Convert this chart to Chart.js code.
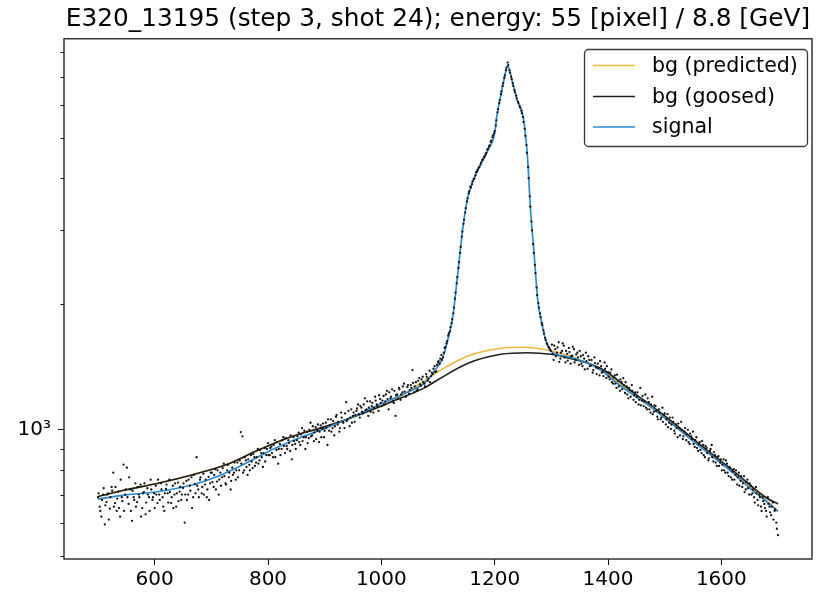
<!DOCTYPE html>
<html><head><meta charset="utf-8">
<script src="https://cdn.jsdelivr.net/npm/chart.js@4.4.1/dist/chart.umd.min.js"></script>
<style>html,body{margin:0;padding:0;background:#fff}canvas{display:block}</style>
</head><body>
<canvas id="c" width="816" height="594"></canvas>
<script>
const titleText = 'E320_13195 (step 3, shot 24); energy: 55 [pixel] / 8.8 [GeV]';
const seriesNames = ['bg (predicted)', 'bg (goosed)', 'signal'];
const xTicks = [600, 800, 1000, 1200, 1400, 1600];
const yMajorTicks = [1000];
const yMinorTicks = [500, 600, 700, 800, 900, 2000, 3000, 4000, 5000, 6000, 7000, 8000];
const xRange = [440, 1760];
const yRange = [491, 8621];

const bgPredicted = [[500,693],[550,719],[608,746],[667,781],[726,825],[784,896],[842,964],[901,1018],[960,1086],[1018,1168],[1065,1282],[1100,1378],[1153,1502],[1211,1567],[1252,1576],[1293,1552],[1316,1524],[1358,1456],[1387,1395],[1445,1215],[1504,1060],[1562,915],[1621,790],[1680,676],[1700,640]];
const bgGoosed = [[500,693],[550,719],[608,746],[667,781],[726,825],[784,896],[842,964],[901,1018],[960,1086],[1018,1168],[1077,1262],[1100,1318],[1153,1443],[1211,1516],[1258,1529],[1299,1516],[1328,1488],[1387,1404],[1445,1228],[1504,1070],[1562,923],[1621,798],[1680,687],[1700,665]];
const signal = [[500,683],[550,699],[608,712],[667,739],[714,777],[761,832],[807,896],[854,955],[901,1009],[948,1072],[995,1147],[1042,1224],[1077,1298],[1094,1385],[1109,1496],[1118,1658],[1126,1861],[1135,2371],[1144,3053],[1150,3450],[1156,3742],[1170,4177],[1188,4663],[1200,5119],[1204,5650],[1209,6137],[1215,6730],[1223,7440],[1232,6730],[1240,6137],[1249,5717],[1254,5150],[1258,4487],[1263,3409],[1270,2589],[1276,2044],[1284,1781],[1290,1641],[1299,1546],[1310,1515],[1328,1496],[1358,1456],[1387,1391],[1416,1293],[1445,1212],[1475,1137],[1504,1057],[1533,982],[1562,912],[1592,848],[1621,788],[1650,726],[1680,674],[1700,638]];

const dotsA = [[500,690],[503,655],[506,620],[509,700],[512,594],[515,672],[518,705],[521,648],[524,730],[527,790],[530,668],[533,640],[536,712],[539,620],[542,690],[545,826],[548,700],
[551,812],[554,665],[557,720],[560,606],[563,690],[566,745],[569,672],[572,700],[575,740],[578,650],[581,710],[584,628],[587,725],[590,690],[593,760],[596,680],[599,705],
[602,735],[605,668],[608,700],[611,745],[614,690],[617,640],[620,722],[623,705],[626,760],[629,668],[632,735],[635,700],[638,655],[641,748],[644,712],[647,680],[650,726],
[653,600],[656,755],[659,700],[662,735],[665,770],[668,690],[671,742],[674,860],[677,720],[680,760],[683,705],[686,785],[689,740],[692,690],[695,772],[698,745],
[701,790],[704,730],[707,805],[710,752],[713,700],[716,790],[719,770],[722,830],[725,745],[728,800],[731,770],[734,720],[737,812],[740,790],[743,760],[746,835],[749,800],
[752,988],[755,965],[758,800],[761,845],[764,780],[767,825],[770,870],[773,810],[776,860],[779,835],[782,900],[785,845],[788,880],[791,815],[794,905],[797,870],[800,930],
[803,870],[806,912],[809,860],[812,945],[815,895],[818,830],[821,925],[824,900],[827,960],[830,880],[833,915],[836,945],[839,890],[842,850],[845,960],[848,925],
[851,945],[854,985],[857,920],[860,1010],[863,960],[866,900],[869,990],[872,955],[875,1040],[878,970],[881,940],[884,1015],[887,995],[890,935],[893,1025],[896,1005],[899,960],
[902,1040],[905,920],[908,995],[911,1060],[914,1010],[917,970],[920,1075],[923,1030],[926,990],[929,1100],[932,1045],[935,1010],[938,1165],[941,1060],[944,1020],[947,1120],[950,1080],
[953,1045],[956,1110],[959,1150],[962,1070],[965,1130],[968,1095],[971,1190],[974,1120],[977,1080],[980,1170],[983,1140],[986,1100],[989,1200],[992,1150],[995,1110],[998,1185],
[1001,1140],[1004,1205],[1007,1170],[1010,1240],[1013,1120],[1016,1190],[1019,1250],[1022,1160],[1025,1080],[1028,1215],[1031,1260],[1034,1180],[1037,1230],[1040,1290],[1043,1200],[1046,1265],[1049,1220],
[1052,1280],[1055,1390],[1058,1230],[1061,1300],[1064,1250],[1067,1330],[1070,1275],[1073,1340],[1076,1290],[1079,1360],[1082,1310],[1085,1385],[1088,1345],[1091,1360],[1094,1420],[1097,1380],[1100,1450],
[1103,1440],[1106,1510],[1109,1490],[1112,1570],[1115,1610],[1118,1680],[1121,1720],[1124,1800],[1127,1900],[1130,2060],[1133,2240],[1136,2440],[1139,2650],[1142,2900],[1145,3110],[1148,3310],[1151,3520],[1154,3680],[1157,3820],[1160,3870],[1163,3980],[1166,4060],[1169,4150],[1172,4240],[1175,4310],[1178,4420],[1181,4480],[1184,4560],[1187,4680],[1190,4760],[1193,4880],[1196,5010],[1199,5120],
[1202,5350],[1205,5750],[1208,6050],[1211,6350],[1214,6650],[1217,6950],[1220,7250],[1223,7560],[1226,7250],[1229,7000],[1232,6750],[1235,6500],[1238,6300],[1241,6100],[1244,5950],[1247,5800],[1250,5600],[1253,5250],[1256,4800],[1259,4250],[1262,3620],[1265,3150],[1268,2780],[1271,2480],[1274,2190],[1277,2010],[1280,1900],[1283,1800],[1286,1730],[1289,1660],[1292,1610],[1295,1580],[1298,1555],
[1301,1600],[1304,1470],[1307,1560],[1310,1530],[1313,1620],[1316,1480],[1319,1545],[1322,1590],[1325,1450],[1328,1520],[1331,1570],[1334,1440],[1337,1505],[1340,1560],[1343,1470],[1346,1530],[1349,1430],
[1352,1500],[1355,1420],[1358,1480],[1361,1530],[1364,1400],[1367,1470],[1370,1425],[1373,1370],[1376,1490],[1379,1410],[1382,1440],[1385,1350],[1388,1420],[1391,1380],[1394,1450],[1397,1330],[1400,1375],
[1403,1320],[1406,1395],[1409,1290],[1412,1350],[1415,1260],[1418,1310],[1421,1240],[1424,1300],[1427,1330],[1430,1225],[1433,1270],[1436,1190],[1439,1245],[1442,1280],[1445,1180],[1448,1230],
[1451,1200],[1454,1150],[1457,1260],[1460,1175],[1463,1140],[1466,1215],[1469,1120],[1472,1165],[1475,1100],[1478,1200],[1481,1105],[1484,1140],[1487,1075],[1490,1120],[1493,1060],[1496,1130],[1499,1085],
[1502,1030],[1505,1090],[1508,1040],[1511,1005],[1514,1070],[1517,995],[1520,1030],[1523,960],[1526,1010],[1529,1045],[1532,950],[1535,990],[1538,945],[1541,1000],[1544,925],[1547,965],[1550,990],
[1553,910],[1556,960],[1559,890],[1562,935],[1565,880],[1568,920],[1571,860],[1574,905],[1577,845],[1580,890],[1583,920],[1586,840],[1589,870],[1592,820],[1595,865],[1598,835],
[1601,800],[1604,850],[1607,790],[1610,830],[1613,775],[1616,810],[1619,760],[1622,805],[1625,780],[1628,740],[1631,790],[1634,755],[1637,730],[1640,775],[1643,720],[1646,760],[1649,700],
[1652,735],[1655,705],[1658,690],[1661,730],[1664,680],[1667,700],[1670,655],[1673,690],[1676,665],[1679,640],[1682,690],[1685,655],[1688,625],[1691,670],[1694,640],[1697,600],[1700,560]];

const dotsB = [[501,705],[504,640],[507,680],[510,725],[513,660],[516,700],[519,610],[522,690],[525,715],[528,655],[531,730],[534,685],[537,650],[540,760],[543,675],[546,640],[549,720],
[552,690],[555,770],[558,640],[561,715],[564,680],[567,655],[570,730],[573,690],[576,620],[579,705],[582,745],[585,670],[588,700],[591,640],[594,720],[597,690],[600,650],
[603,700],[606,760],[609,680],[612,720],[615,655],[618,705],[621,740],[624,670],[627,710],[630,690],[633,650],[636,745],[639,705],[642,675],[645,730],[648,700],
[651,745],[654,700],[657,680],[660,760],[663,715],[666,650],[669,780],[672,705],[675,735],[678,690],[681,770],[684,730],[687,700],[690,760],[693,720],[696,680],[699,790],
[702,750],[705,780],[708,720],[711,800],[714,760],[717,735],[720,810],[723,775],[726,740],[729,825],[732,790],[735,755],[738,780],[741,835],[744,800],[747,770],[750,845],
[753,830],[756,790],[759,860],[762,815],[765,850],[768,800],[771,840],[774,875],[777,820],[780,860],[783,830],[786,895],[789,860],[792,880],[795,840],[798,900],
[801,870],[804,905],[807,880],[810,920],[813,860],[816,935],[819,900],[822,870],[825,945],[828,915],[831,955],[834,900],[837,930],[840,970],[843,920],[846,940],[849,900],
[852,965],[855,935],[858,975],[861,940],[864,995],[867,960],[870,930],[873,1000],[876,965],[879,1020],[882,985],[885,950],[888,1030],[891,990],[894,960],[897,1035],[900,995],
[903,1010],[906,1060],[909,1025],[912,990],[915,1050],[918,1020],[921,1085],[924,1045],[927,1010],[930,1070],[933,1040],[936,1095],[939,1050],[942,1110],[945,1070],[948,1040],[951,1100],
[954,1085],[957,1125],[960,1090],[963,1140],[966,1105],[969,1150],[972,1115],[975,1170],[978,1130],[981,1105],[984,1160],[987,1130],[990,1175],[993,1140],[996,1210],[999,1160],
[1002,1175],[1005,1150],[1008,1215],[1011,1185],[1014,1230],[1017,1200],[1020,1170],[1023,1240],[1026,1210],[1029,1185],[1032,1250],[1035,1215],[1038,1270],[1041,1235],[1044,1205],[1047,1280],[1050,1245],
[1053,1260],[1056,1295],[1059,1270],[1062,1240],[1065,1310],[1068,1285],[1071,1320],[1074,1300],[1077,1270],[1080,1340],[1083,1325],[1086,1300],[1089,1370],[1092,1400],[1095,1375],[1098,1430],[1101,1460],
[1104,1480],[1107,1470],[1110,1530],[1113,1580],[1116,1630],[1119,1700],[1122,1760],[1125,1840],[1128,1960],[1131,2130],[1134,2320],[1137,2520],[1140,2740],[1143,2980],[1146,3180],[1149,3390],[1152,3580],[1155,3720],[1158,3800],[1161,3930],[1164,3990],[1167,4130],[1170,4190],[1173,4250],[1176,4360],[1179,4430],[1182,4510],[1185,4600],[1188,4700],[1191,4790],[1194,4920],[1197,5060],[1200,5180],
[1203,5500],[1206,5850],[1209,6150],[1212,6450],[1215,6750],[1218,7050],[1221,7350],[1224,7450],[1227,7150],[1230,6900],[1233,6650],[1236,6420],[1239,6200],[1242,6050],[1245,5900],[1248,5720],[1251,5450],[1254,5050],[1257,4600],[1260,4000],[1263,3420],[1266,3000],[1269,2650],[1272,2370],[1275,2100],[1278,1960],[1281,1860],[1284,1780],[1287,1700],[1290,1640],[1293,1600],[1296,1570],[1299,1545],
[1302,1520],[1305,1590],[1308,1500],[1311,1575],[1314,1455],[1317,1530],[1320,1610],[1323,1490],[1326,1545],[1329,1465],[1332,1535],[1335,1500],[1338,1580],[1341,1450],[1344,1515],[1347,1490],[1350,1545],
[1353,1440],[1356,1510],[1359,1395],[1362,1460],[1365,1500],[1368,1420],[1371,1470],[1374,1390],[1377,1445],[1380,1360],[1383,1405],[1386,1460],[1389,1370],[1392,1345],[1395,1400],[1398,1420],[1401,1340],
[1404,1370],[1407,1300],[1410,1335],[1413,1290],[1416,1355],[1419,1270],[1422,1320],[1425,1250],[1428,1280],[1431,1300],[1434,1215],[1437,1260],[1440,1200],[1443,1240],[1446,1210],[1449,1165],
[1452,1230],[1455,1180],[1458,1145],[1461,1205],[1464,1170],[1467,1130],[1470,1190],[1473,1120],[1476,1150],[1479,1090],[1482,1145],[1485,1110],[1488,1060],[1491,1100],[1494,1070],[1497,1045],[1500,1095],
[1503,1060],[1506,1015],[1509,1070],[1512,1030],[1515,1045],[1518,980],[1521,1010],[1524,1035],[1527,970],[1530,1000],[1533,965],[1536,1010],[1539,975],[1542,935],[1545,980],[1548,950],[1551,925],
[1554,945],[1557,905],[1560,925],[1563,895],[1566,940],[1569,870],[1572,915],[1575,880],[1578,855],[1581,900],[1584,860],[1587,885],[1590,835],[1593,860],[1596,820],[1599,850],
[1602,825],[1605,800],[1608,845],[1611,790],[1614,815],[1617,770],[1620,795],[1623,760],[1626,800],[1629,770],[1632,735],[1635,775],[1638,745],[1641,710],[1644,750],[1647,725],[1650,745],
[1653,700],[1656,720],[1659,670],[1662,705],[1665,660],[1668,690],[1671,640],[1674,675],[1677,650],[1680,620],[1683,665],[1686,635],[1689,655],[1692,610],[1695,645],[1698,580]];

const FONT = 'DejaVu Sans';
const colPred = '#f2b73f', colGoose = '#1e1e1e', colSig = '#2a8ad0';
const toXY = a => a.map(p => ({x: p[0], y: p[1]}));

const decorPlugin = {
  id: 'decor',
  afterDraw(chart) {
    const ctx = chart.ctx, ca = chart.chartArea, ys = chart.scales.y;
    ctx.save();
    ctx.strokeStyle = '#111'; ctx.lineWidth = 1;
    yMinorTicks.forEach(v => {
      const py = Math.round(ys.getPixelForValue(v)) + 0.5;
      ctx.beginPath(); ctx.moveTo(ca.left - 3.5, py); ctx.lineTo(ca.left, py); ctx.stroke();
    });
    ctx.strokeStyle = '#262626'; ctx.lineWidth = 1.4;
    ctx.strokeRect(ca.left, ca.top, ca.right - ca.left, ca.bottom - ca.top);
    const bx = 584.5, by = 49.5, bw = 223, bh = 97, r = 4;
    ctx.fillStyle = 'rgba(255,255,255,0.85)';
    ctx.strokeStyle = '#3a3a3a'; ctx.lineWidth = 1.3;
    ctx.beginPath();
    ctx.moveTo(bx + r, by); ctx.lineTo(bx + bw - r, by); ctx.arcTo(bx + bw, by, bx + bw, by + r, r);
    ctx.lineTo(bx + bw, by + bh - r); ctx.arcTo(bx + bw, by + bh, bx + bw - r, by + bh, r);
    ctx.lineTo(bx + r, by + bh); ctx.arcTo(bx, by + bh, bx, by + bh - r, r);
    ctx.lineTo(bx, by + r); ctx.arcTo(bx, by, bx + r, by, r);
    ctx.closePath(); ctx.fill(); ctx.stroke();
    const cols = [colPred, colGoose, colSig];
    const rows = [65.5, 96.5, 127];
    ctx.font = '20.5px "' + FONT + '"'; ctx.textBaseline = 'middle'; ctx.textAlign = 'left';
    seriesNames.forEach((n, i) => {
      ctx.strokeStyle = cols[i]; ctx.lineWidth = 1.6;
      ctx.beginPath(); ctx.moveTo(593, rows[i]); ctx.lineTo(635, rows[i]); ctx.stroke();
      ctx.fillStyle = '#000'; ctx.fillText(n, 652, rows[i] + 1);
    });
    ctx.restore();
  }
};

const dotStyle = {showLine: false, pointRadius: 1.15, pointBackgroundColor: '#111', pointBorderWidth: 0, order: 0};

new Chart(document.getElementById('c'), {
  type: 'scatter',
  data: {
    datasets: [
      Object.assign({label: 'data A', data: toXY(dotsA)}, dotStyle),
      Object.assign({label: 'data B', data: toXY(dotsB)}, dotStyle),
      {label: seriesNames[2], data: toXY(signal), showLine: true, borderColor: colSig, borderWidth: 1.7, pointRadius: 0, cubicInterpolationMode: 'monotone', order: 1},
      {label: seriesNames[1], data: toXY(bgGoosed), showLine: true, borderColor: colGoose, borderWidth: 1.6, pointRadius: 0, cubicInterpolationMode: 'monotone', order: 2},
      {label: seriesNames[0], data: toXY(bgPredicted), showLine: true, borderColor: colPred, borderWidth: 1.6, pointRadius: 0, cubicInterpolationMode: 'monotone', order: 3}
    ]
  },
  options: {
    responsive: false, animation: false, devicePixelRatio: 1,
    layout: {padding: {left: 0, right: 1, top: 0, bottom: 0}},
    plugins: {
      legend: {display: false}, tooltip: {enabled: false},
      title: {display: true, text: titleText, fullSize: false, color: '#000',
        font: {family: FONT, size: 24.8, weight: 'normal'}, padding: {top: 5, bottom: 4}}
    },
    scales: {
      x: {type: 'linear', min: xRange[0], max: xRange[1],
        afterBuildTicks: s => { s.ticks = xTicks.map(v => ({value: v})); },
        ticks: {font: {family: FONT, size: 20}, color: '#000', padding: 3, maxRotation: 0, autoSkip: false,
          callback: v => String(v)},
        grid: {drawOnChartArea: false, drawTicks: true, tickLength: 6, color: '#111', lineWidth: 1},
        border: {display: false},
        afterFit: s => { s.height = 35; }
      },
      y: {type: 'logarithmic', min: yRange[0], max: yRange[1],
        afterBuildTicks: s => { s.ticks = yMajorTicks.map(v => ({value: v})); },
        ticks: {font: {family: FONT, size: 20}, color: '#000', padding: 7,
          callback: v => (v === 1000 ? '10³' : '')},
        grid: {drawOnChartArea: false, drawTicks: true, tickLength: 6, color: '#111', lineWidth: 1},
        border: {display: false},
        afterFit: s => { s.width = 64; }
      }
    }
  },
  plugins: [decorPlugin]
});
</script>
</body></html>
